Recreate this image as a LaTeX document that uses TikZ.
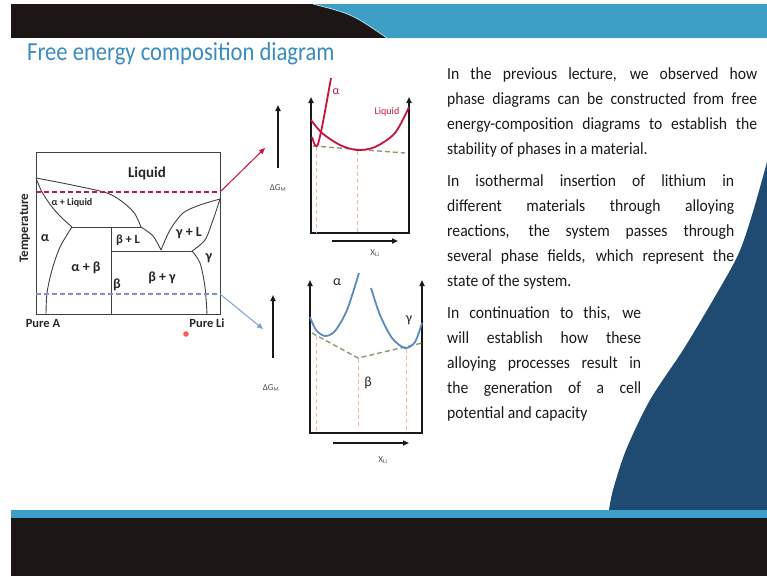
\documentclass[tikz,border=0pt]{standalone}
\usepackage{fontspec}
\setmainfont{Carlito}
\newfontfamily\titlefont{Carlito}[FakeStretch=0.87]
\newfontfamily\bodyfont{Carlito}[FakeStretch=0.92]
\usetikzlibrary{arrows.meta,positioning}
\definecolor{bandblack}{HTML}{1D1616}
\definecolor{bandblue}{HTML}{3E9FC6}
\definecolor{deepblue}{HTML}{1F4A72}
\definecolor{titleblue}{HTML}{3A8CC0}
\definecolor{curvered}{HTML}{C8143C}
\definecolor{curveblue}{HTML}{5B8BC0}
\definecolor{tangent}{HTML}{8E9A70}
\definecolor{peach}{HTML}{F0B898}
\definecolor{lavender}{HTML}{8090CC}

\begin{document}
\begin{tikzpicture}[x=1pt, y=-1pt,
    phase/.style={line width=0.9pt, black!75},
    field/.style={font=\bfseries\fontsize{14}{14}\selectfont, text=black!85, inner sep=0pt},
    axis/.style={line width=1.6pt, black!90},
    tipped/.style={-{Triangle[length=6pt, width=5pt]}},
    gibbs/.style={line width=1.8pt},
    tangentline/.style={tangent, line width=1.4pt, dash pattern=on 5pt off 3pt},
    dropline/.style={peach, line width=0.9pt, dash pattern=on 4pt off 3pt},
    axlabel/.style={font=\fontsize{9}{9}\selectfont, text=black!70, inner sep=0pt},
    para/.style={font=\bodyfont\fontsize{17}{25}\selectfont, text=black!90, align=justify, inner sep=0pt, anchor=north west},
  ]
    \useasboundingbox (0,0) rectangle (767,576);

    % slide frame
    \fill[bandblack] (11,4) rectangle (767,38);
    \fill[bandblue] (313,4) .. controls (352,14) .. (387,38) -- (767,38) -- (767,4) -- cycle;
    \draw[white!60!bandblue, line width=0.8pt] (313,4) .. controls (352,14) .. (387,38);
    \fill[deepblue] plot[smooth] coordinates {(767,162) (752,215) (738,255) (713,300) (683,350) (650,400) (626,450) (613,490) (609,510)} -- (767,510) -- cycle;
    \fill[bandblue] (11,510) rectangle (767,518);
    \fill[bandblack] (11,518) rectangle (767,576);

    \node[anchor=base west, inner sep=0pt, text=titleblue, font=\titlefont\fontsize{26}{26}\selectfont] (title) at (27,60) {Free energy composition diagram};

    % phase diagram
    \draw[phase] (36,152) rectangle (220,314);
    \draw[phase] plot[smooth] coordinates {(36,178) (72,185) (107,193) (124,203) (135,214) (141,227)};
    \draw[phase] plot[smooth] coordinates {(141,227) (153,236) (161,250)};
    \draw[phase] plot[smooth] coordinates {(36,178) (42,192) (52,207) (62,218) (72,227)};
    \draw[phase] plot[smooth] coordinates {(72,227) (60,247) (52,270) (47,293) (46,314)};
    \draw[phase] (72,227) -- (141,227);
    \draw[phase] (111,227) -- (111,314);
    \draw[phase] (111,251) -- (192,251);
    \draw[phase] plot[smooth] coordinates {(161,250) (170,230) (183,213) (200,205) (220,199)};
    \draw[phase] plot[smooth] coordinates {(220,199) (213,220) (205,240) (192,251)};
    \draw[phase] plot[smooth] coordinates {(192,251) (200,263) (205,287) (207,314)};

    \node[field, font=\bfseries\fontsize{15}{15}\selectfont] (liq) at (147,173) {Liquid};
    \node[field, font=\bfseries\fontsize{10}{10}\selectfont] (aliq) at (72,203) {α + Liquid};
    \node[field] (fa) at (45,238) {α};
    \node[field] (fab) at (86,268) {α + β};
    \node[field, font=\bfseries\fontsize{12.5}{12.5}\selectfont] (fbl) at (128,240) {β + L};
    \node[field] (fgl) at (189,233) {γ + L};
    \node[field] (fg) at (209,258) {γ};
    \node[field] (fb) at (117,285) {β};
    \node[field] (fbg) at (162,278) {β + γ};
    \node[field, font=\bfseries\fontsize{12.5}{12.5}\selectfont] (pa) at (43,323) {Pure A};
    \node[field, font=\bfseries\fontsize{12.5}{12.5}\selectfont] (pli) at (207,323) {Pure Li};
    \node[field, font=\bfseries\fontsize{13}{13}\selectfont, rotate=90] (temp) at (25,228) {Temperature};

    \coordinate (hot) at (36,192);
    \coordinate (hotcut) at (220,192);
    \coordinate (hottip) at (265,148);
    \coordinate (cold) at (36,294);
    \coordinate (coldcut) at (220,294);
    \coordinate (coldtip) at (263,329);
    \draw[curvered, line width=2pt, dash pattern=on 5pt off 3pt] (hot) -- (hotcut);
    \draw[curvered, line width=1pt, -{Triangle[length=6pt, width=5pt]}] (hotcut) -- (hottip);
    \draw[lavender, line width=2pt, dash pattern=on 5pt off 3pt] (cold) -- (coldcut);
    \draw[curveblue!80, line width=1pt, -{Triangle[length=6pt, width=5pt]}] (coldcut) -- (coldtip);

    \fill[red!75!pink, opacity=0.8] (186,334) circle (2.8);

    % free energy at high temperature
    \draw[axis, tipped] (278,168) -- (278,105);
    \node[axlabel] (dg1) at (278,188) {ΔG\textsubscript{M}};
    \draw[axis, {Triangle[length=6pt, width=5pt]}-{Triangle[length=6pt, width=5pt]}] (311,97) -- (311,233) -- (409,233) -- (409,97);
    \draw[axis, tipped] (332,241) -- (398,241);
    \node[axlabel] (xl1) at (375,253) {X\textsubscript{Li}};
    \draw[tangentline] (313,146) -- (405,153);
    \draw[dropline] (316,147) -- (316,233);
    \draw[dropline] (357,151) -- (357,233);
    \draw[gibbs, curvered] plot[smooth] coordinates {(311,120) (322,133) (340,145) (357,150) (375,147) (395,133) (409,107)};
    \draw[gibbs, curvered] plot[smooth] coordinates {(312,137) (315,145) (318,144) (323,122) (331,78)};
    \node[text=curvered, font=\fontsize{12}{12}\selectfont, inner sep=0pt] (ga) at (336,92) {α};
    \node[text=curvered, font=\fontsize{10}{10}\selectfont, inner sep=0pt] (gliq) at (387,112) {Liquid};

    % free energy at low temperature
    \draw[axis, tipped] (273,358) -- (273,295);
    \node[axlabel] (dg2) at (271,388) {ΔG\textsubscript{M}};
    \draw[axis, {Triangle[length=6pt, width=5pt]}-{Triangle[length=6pt, width=5pt]}] (310,280) -- (310,433) -- (422,433) -- (422,280);
    \draw[axis, tipped] (333,443) -- (409,443);
    \node[axlabel] (xl2) at (383,460) {X\textsubscript{Li}};
    \draw[tangentline] (312,333) -- (358,358) -- (422,343);
    \draw[dropline] (316,336) -- (316,433);
    \draw[dropline] (358,359) -- (358,427);
    \draw[dropline] (406,349) -- (406,433);
    \draw[gibbs, curveblue] plot[smooth] coordinates {(310,317) (316,330) (325,336) (335,331) (347,310) (359,273)};
    \draw[gibbs, curveblue] plot[smooth] coordinates {(371,288) (380,315) (392,338) (405,348) (415,342) (422,323)};
    \node[font=\fontsize{14}{14}\selectfont, text=black!85, inner sep=0pt] (la) at (337,282) {α};
    \node[font=\fontsize{14}{14}\selectfont, text=black!85, inner sep=0pt] (lg) at (409,320) {γ};
    \node[font=\fontsize{14}{14}\selectfont, text=black!85, inner sep=0pt] (lb) at (368,383) {β};

    % lecture notes
    \node[para, text width=310pt] (p1) at (447,67) {In the previous lecture, we observed how\linebreak phase diagrams can be constructed from free\linebreak energy-composition diagrams to establish the\linebreak stability of phases in a material.};
    \node[para, text width=287pt] (p2) at (447,174) {In isothermal insertion of lithium in\linebreak different materials through alloying\linebreak reactions, the system passes through\linebreak several phase fields, which represent the\linebreak state of the system.};
    \node[para, text width=194pt] (p3) at (447,306) {In continuation to this, we\linebreak will establish how these\linebreak alloying processes result in\linebreak the generation of a cell\linebreak potential and capacity};
  \end{tikzpicture}
\end{document}
